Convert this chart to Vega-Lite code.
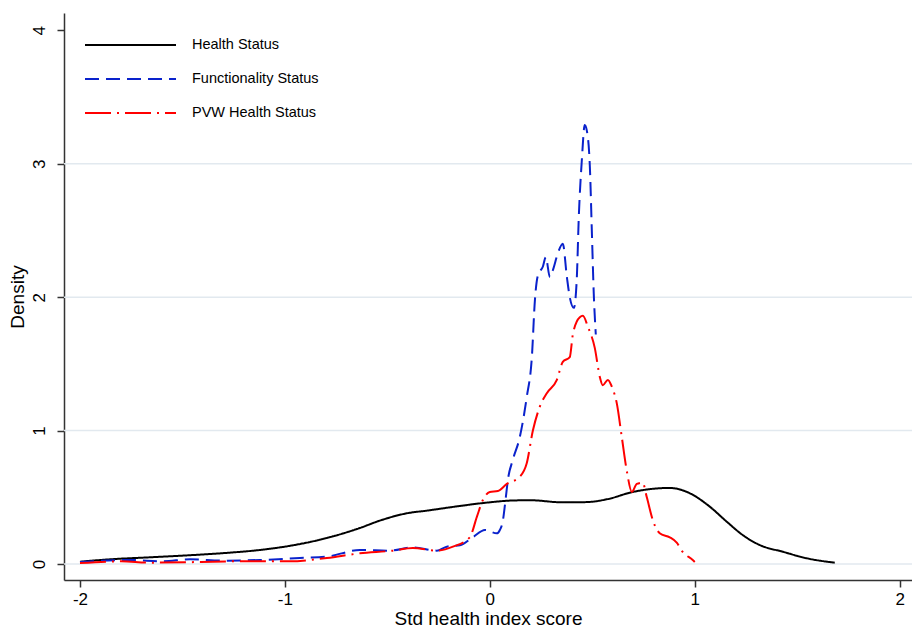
{
  "$schema": "https://vega.github.io/schema/vega-lite/v6.json",
  "autosize": "none",
  "width": 848,
  "height": 567,
  "padding": {"left": 64, "top": 13, "right": 0, "bottom": 54},
  "background": "white",
  "config": {"font": "Liberation Sans", "view": {"stroke": null}},
  "datasets": {
    "grid": [{"g": 0}, {"g": 1}, {"g": 2}, {"g": 3}],
    "dens": [
      {"s": "Health Status", "x": -2.0, "y": 0.017},
      {"s": "Health Status", "x": -1.854, "y": 0.035},
      {"s": "Health Status", "x": -1.66, "y": 0.05},
      {"s": "Health Status", "x": -1.449, "y": 0.067},
      {"s": "Health Status", "x": -1.268, "y": 0.085},
      {"s": "Health Status", "x": -1.122, "y": 0.105},
      {"s": "Health Status", "x": -0.961, "y": 0.14},
      {"s": "Health Status", "x": -0.795, "y": 0.195},
      {"s": "Health Status", "x": -0.634, "y": 0.27},
      {"s": "Health Status", "x": -0.537, "y": 0.325},
      {"s": "Health Status", "x": -0.405, "y": 0.38},
      {"s": "Health Status", "x": -0.307, "y": 0.4},
      {"s": "Health Status", "x": -0.146, "y": 0.435},
      {"s": "Health Status", "x": -0.015, "y": 0.46},
      {"s": "Health Status", "x": 0.098, "y": 0.475},
      {"s": "Health Status", "x": 0.195, "y": 0.478},
      {"s": "Health Status", "x": 0.356, "y": 0.462},
      {"s": "Health Status", "x": 0.473, "y": 0.464},
      {"s": "Health Status", "x": 0.571, "y": 0.485},
      {"s": "Health Status", "x": 0.698, "y": 0.54},
      {"s": "Health Status", "x": 0.878, "y": 0.57},
      {"s": "Health Status", "x": 0.976, "y": 0.53},
      {"s": "Health Status", "x": 1.073, "y": 0.43},
      {"s": "Health Status", "x": 1.156, "y": 0.317},
      {"s": "Health Status", "x": 1.234, "y": 0.217},
      {"s": "Health Status", "x": 1.317, "y": 0.142},
      {"s": "Health Status", "x": 1.429, "y": 0.092},
      {"s": "Health Status", "x": 1.546, "y": 0.043},
      {"s": "Health Status", "x": 1.683, "y": 0.01},

      {"s": "Functionality Status", "x": -2.0, "y": 0.015},
      {"s": "Functionality Status", "x": -1.75, "y": 0.03},
      {"s": "Functionality Status", "x": -1.6, "y": 0.02},
      {"s": "Functionality Status", "x": -1.463, "y": 0.035},
      {"s": "Functionality Status", "x": -1.3, "y": 0.025},
      {"s": "Functionality Status", "x": -1.122, "y": 0.03},
      {"s": "Functionality Status", "x": -0.927, "y": 0.045},
      {"s": "Functionality Status", "x": -0.795, "y": 0.055},
      {"s": "Functionality Status", "x": -0.634, "y": 0.105},
      {"s": "Functionality Status", "x": -0.488, "y": 0.1},
      {"s": "Functionality Status", "x": -0.376, "y": 0.125},
      {"s": "Functionality Status", "x": -0.259, "y": 0.1},
      {"s": "Functionality Status", "x": -0.21, "y": 0.13},
      {"s": "Functionality Status", "x": -0.146, "y": 0.14},
      {"s": "Functionality Status", "x": -0.083, "y": 0.2},
      {"s": "Functionality Status", "x": -0.024, "y": 0.255},
      {"s": "Functionality Status", "x": 0.034, "y": 0.23},
      {"s": "Functionality Status", "x": 0.049, "y": 0.255},
      {"s": "Functionality Status", "x": 0.063, "y": 0.32},
      {"s": "Functionality Status", "x": 0.078, "y": 0.5},
      {"s": "Functionality Status", "x": 0.088, "y": 0.63},
      {"s": "Functionality Status", "x": 0.112, "y": 0.78},
      {"s": "Functionality Status", "x": 0.146, "y": 0.95},
      {"s": "Functionality Status", "x": 0.18, "y": 1.25},
      {"s": "Functionality Status", "x": 0.205, "y": 1.55},
      {"s": "Functionality Status", "x": 0.22, "y": 1.98},
      {"s": "Functionality Status", "x": 0.234, "y": 2.16},
      {"s": "Functionality Status", "x": 0.259, "y": 2.23},
      {"s": "Functionality Status", "x": 0.273, "y": 2.3},
      {"s": "Functionality Status", "x": 0.293, "y": 2.15},
      {"s": "Functionality Status", "x": 0.307, "y": 2.2},
      {"s": "Functionality Status", "x": 0.332, "y": 2.33},
      {"s": "Functionality Status", "x": 0.356, "y": 2.4},
      {"s": "Functionality Status", "x": 0.376, "y": 2.15},
      {"s": "Functionality Status", "x": 0.39, "y": 2.0},
      {"s": "Functionality Status", "x": 0.41, "y": 1.92},
      {"s": "Functionality Status", "x": 0.424, "y": 2.13},
      {"s": "Functionality Status", "x": 0.434, "y": 2.6},
      {"s": "Functionality Status", "x": 0.449, "y": 3.03},
      {"s": "Functionality Status", "x": 0.463, "y": 3.29},
      {"s": "Functionality Status", "x": 0.473, "y": 3.25},
      {"s": "Functionality Status", "x": 0.488, "y": 2.98},
      {"s": "Functionality Status", "x": 0.498, "y": 2.48},
      {"s": "Functionality Status", "x": 0.507, "y": 2.03},
      {"s": "Functionality Status", "x": 0.517, "y": 1.72},

      {"s": "PVW Health Status", "x": -2.0, "y": 0.007},
      {"s": "PVW Health Status", "x": -1.8, "y": 0.02},
      {"s": "PVW Health Status", "x": -1.66, "y": 0.01},
      {"s": "PVW Health Status", "x": -1.41, "y": 0.015},
      {"s": "PVW Health Status", "x": -1.25, "y": 0.02},
      {"s": "PVW Health Status", "x": -1.12, "y": 0.02},
      {"s": "PVW Health Status", "x": -0.976, "y": 0.02},
      {"s": "PVW Health Status", "x": -0.795, "y": 0.045},
      {"s": "PVW Health Status", "x": -0.634, "y": 0.08},
      {"s": "PVW Health Status", "x": -0.473, "y": 0.1},
      {"s": "PVW Health Status", "x": -0.376, "y": 0.12},
      {"s": "PVW Health Status", "x": -0.259, "y": 0.1},
      {"s": "PVW Health Status", "x": -0.18, "y": 0.13},
      {"s": "PVW Health Status", "x": -0.098, "y": 0.2},
      {"s": "PVW Health Status", "x": -0.063, "y": 0.355},
      {"s": "PVW Health Status", "x": -0.034, "y": 0.48},
      {"s": "PVW Health Status", "x": 0.0, "y": 0.54},
      {"s": "PVW Health Status", "x": 0.039, "y": 0.547},
      {"s": "PVW Health Status", "x": 0.083, "y": 0.6},
      {"s": "PVW Health Status", "x": 0.146, "y": 0.654},
      {"s": "PVW Health Status", "x": 0.18, "y": 0.755},
      {"s": "PVW Health Status", "x": 0.21, "y": 1.0},
      {"s": "PVW Health Status", "x": 0.244, "y": 1.18},
      {"s": "PVW Health Status", "x": 0.278, "y": 1.28},
      {"s": "PVW Health Status", "x": 0.327, "y": 1.38},
      {"s": "PVW Health Status", "x": 0.356, "y": 1.515},
      {"s": "PVW Health Status", "x": 0.39, "y": 1.55},
      {"s": "PVW Health Status", "x": 0.405, "y": 1.72},
      {"s": "PVW Health Status", "x": 0.439, "y": 1.85},
      {"s": "PVW Health Status", "x": 0.454, "y": 1.86},
      {"s": "PVW Health Status", "x": 0.478, "y": 1.78},
      {"s": "PVW Health Status", "x": 0.512, "y": 1.62},
      {"s": "PVW Health Status", "x": 0.537, "y": 1.4},
      {"s": "PVW Health Status", "x": 0.551, "y": 1.34},
      {"s": "PVW Health Status", "x": 0.576, "y": 1.38},
      {"s": "PVW Health Status", "x": 0.595, "y": 1.33},
      {"s": "PVW Health Status", "x": 0.62, "y": 1.2},
      {"s": "PVW Health Status", "x": 0.644, "y": 0.95},
      {"s": "PVW Health Status", "x": 0.668, "y": 0.7},
      {"s": "PVW Health Status", "x": 0.693, "y": 0.54},
      {"s": "PVW Health Status", "x": 0.717, "y": 0.6},
      {"s": "PVW Health Status", "x": 0.746, "y": 0.61},
      {"s": "PVW Health Status", "x": 0.766, "y": 0.5},
      {"s": "PVW Health Status", "x": 0.795, "y": 0.33},
      {"s": "PVW Health Status", "x": 0.829, "y": 0.23},
      {"s": "PVW Health Status", "x": 0.878, "y": 0.2},
      {"s": "PVW Health Status", "x": 0.912, "y": 0.16},
      {"s": "PVW Health Status", "x": 0.941, "y": 0.09},
      {"s": "PVW Health Status", "x": 0.99, "y": 0.03},
      {"s": "PVW Health Status", "x": 1.0, "y": 0.015}
    ]
  },
  "layer": [
    {
      "data": {"name": "grid"},
      "mark": {"type": "rule", "color": "#e2e9ef", "strokeWidth": 1.5},
      "encoding": {
        "y": {
          "field": "g", "type": "quantitative",
          "scale": {"domain": [-0.12, 4.13], "nice": false, "zero": false},
          "axis": {
            "title": "Density", "values": [0, 1, 2, 3, 4], "labelExpr": "'' + datum.value",
            "grid": false, "domainColor": "#333", "domainWidth": 1.5, "tickColor": "#333", "tickWidth": 1.5,
            "tickSize": 7, "labelFontSize": 17, "labelColor": "#000", "labelAngle": -90, "labelAlign": "center", "labelBaseline": "bottom", "labelPadding": 9,
            "titleFontSize": 19, "titleFontWeight": "normal", "titleColor": "#000", "titlePadding": 3
          }
        }
      }
    },
    {
      "data": {"name": "dens"},
      "mark": {"type": "line", "strokeWidth": 2, "interpolate": "monotone"},
      "encoding": {
        "x": {
          "field": "x", "type": "quantitative",
          "scale": {"domain": [-2.078, 2.06], "nice": false, "zero": false},
          "axis": {
            "title": "Std health index score", "values": [-2, -1, 0, 1, 2], "labelExpr": "'' + datum.value",
            "grid": false, "domainColor": "#333", "domainWidth": 1.5, "tickColor": "#333", "tickWidth": 1.5,
            "tickSize": 7, "labelFontSize": 17, "labelColor": "#000", "labelPadding": 4,
            "titleFontSize": 19, "titleFontWeight": "normal", "titleColor": "#000", "titlePadding": 2
          }
        },
        "y": {
          "field": "y", "type": "quantitative",
          "scale": {"domain": [-0.12, 4.13], "nice": false, "zero": false},
          "axis": {
            "title": "Density", "values": [0, 1, 2, 3, 4], "labelExpr": "'' + datum.value",
            "grid": false, "domainColor": "#333", "domainWidth": 1.5, "tickColor": "#333", "tickWidth": 1.5,
            "tickSize": 7, "labelFontSize": 17, "labelColor": "#000", "labelAngle": -90, "labelAlign": "center", "labelBaseline": "bottom", "labelPadding": 9,
            "titleFontSize": 19, "titleFontWeight": "normal", "titleColor": "#000", "titlePadding": 3
          }
        },
        "color": {
          "field": "s", "type": "nominal",
          "scale": {"domain": ["Health Status", "Functionality Status", "PVW Health Status"], "range": ["#000000", "#0a22cc", "#ff0000"]},
          "legend": {
            "title": null, "orient": "none", "legendX": 20, "legendY": 15, "padding": 0,
            "symbolType": "stroke", "symbolSize": 8281, "symbolStrokeWidth": 2, "clipHeight": 34, "rowPadding": 0,
            "labelFontSize": 14.5, "labelColor": "#000", "labelOffset": 15
          }
        },
        "strokeDash": {
          "field": "s", "type": "nominal",
          "scale": {"domain": ["Health Status", "Functionality Status", "PVW Health Status"], "range": [[1, 0], [14, 7], [26, 6, 2, 6]]},
          "legend": {
            "title": null, "orient": "none", "legendX": 20, "legendY": 15, "padding": 0,
            "symbolType": "stroke", "symbolSize": 8281, "symbolStrokeWidth": 2, "clipHeight": 34, "rowPadding": 0,
            "labelFontSize": 14.5, "labelColor": "#000", "labelOffset": 15
          }
        }
      }
    }
  ]
}
